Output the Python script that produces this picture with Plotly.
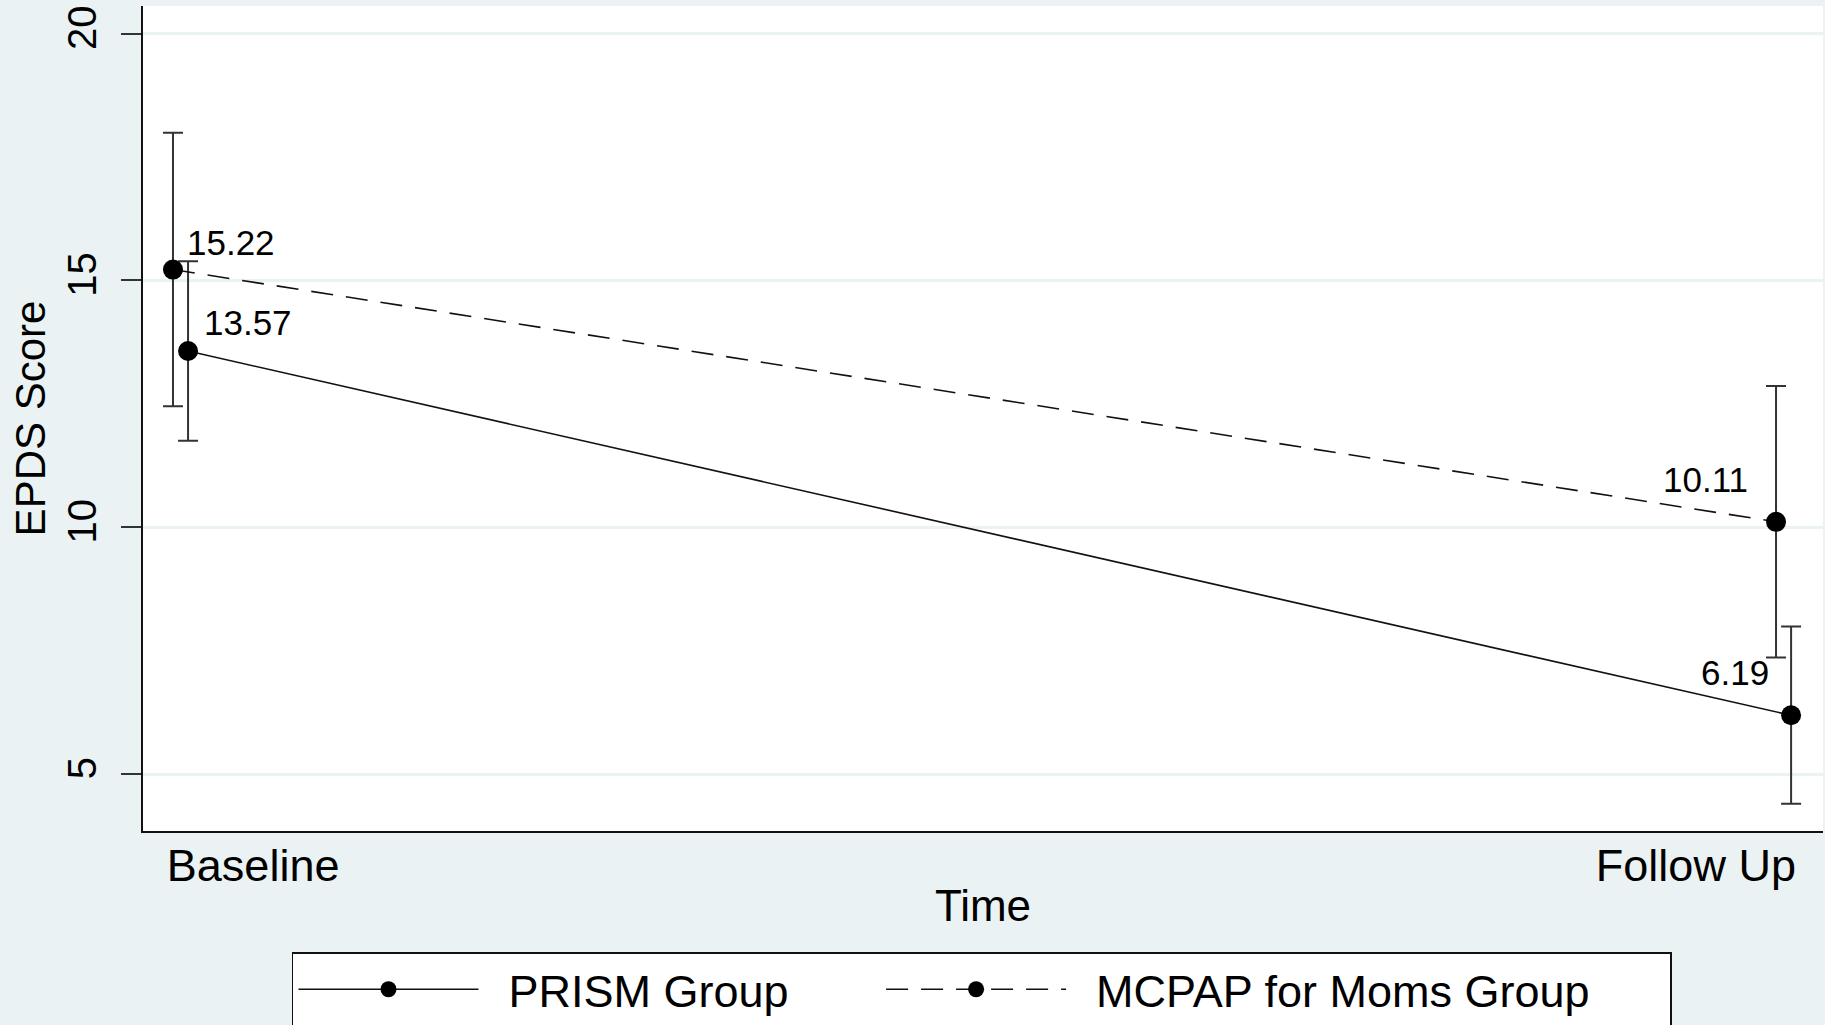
import plotly.graph_objects as go

# ---- data ----
categories = ["Baseline", "Follow Up"]
time_index = [1, 2]
prism_mean = [13.57, 6.19]
prism_lo = [11.75, 4.40]
prism_hi = [15.39, 7.99]
mcpap_mean = [15.22, 10.11]
mcpap_lo = [12.45, 7.36]
mcpap_hi = [17.99, 12.86]
y_ticks = [5, 10, 15, 20]

FONT = "Liberation Sans, Arial, sans-serif"
BG = "#EAF2F3"
INK = "#111111"
NB = "\u00a0"

offset = 0.0094  # horizontal dodge of PRISM series
prism_x = [t + offset for t in time_index]
mcpap_x = list(time_index)

fig = go.Figure()

fig.add_trace(go.Scatter(
    x=prism_x, y=prism_mean, mode="lines+markers",
    name=NB * 2 + "PRISM Group" + NB * 7,
    line=dict(color=INK, width=1.6),
    marker=dict(color="black", size=20),
    error_y=dict(type="data", symmetric=False,
                 array=[h - m for h, m in zip(prism_hi, prism_mean)],
                 arrayminus=[m - l for m, l in zip(prism_mean, prism_lo)],
                 color="#333333", thickness=2, width=10),
))
fig.add_trace(go.Scatter(
    x=mcpap_x, y=mcpap_mean, mode="lines+markers",
    name=NB * 2 + "MCPAP for Moms Group" + NB * 6,
    line=dict(color=INK, width=1.6, dash="22px,13px"),
    marker=dict(color="black", size=20),
    error_y=dict(type="data", symmetric=False,
                 array=[h - m for h, m in zip(mcpap_hi, mcpap_mean)],
                 arrayminus=[m - l for m, l in zip(mcpap_mean, mcpap_lo)],
                 color="#333333", thickness=2, width=10),
))

# value labels
label_font = dict(family=FONT, size=35, color="black")
annos = []
for xs, ys, shifts in [(mcpap_x, mcpap_mean, [(12, 27), (-26, 42)]),
                       (prism_x, prism_mean, [(14, 29), (-20, 43)])]:
    for i, (xv, yv) in enumerate(zip(xs, ys)):
        dx, dy = shifts[i]
        annos.append(dict(x=xv, y=yv, xref="x", yref="y", text=f"{yv:.2f}",
                          showarrow=False, font=label_font,
                          xanchor="left" if i == 0 else "right", yanchor="middle",
                          xshift=dx, yshift=dy))

fig.update_layout(
    width=1825, height=1025,
    margin=dict(l=143, r=2, t=6, b=194, autoexpand=False),
    paper_bgcolor=BG, plot_bgcolor="white",
    font=dict(family=FONT, color="black"),
    showlegend=True,
    legend=dict(orientation="h", x=0.4994, xanchor="center", y=-0.1467, yanchor="top",
                bgcolor="white", bordercolor=INK, borderwidth=1.5,
                font=dict(family=FONT, size=45, color="black"),
                itemwidth=180, itemclick=False),
    annotations=annos,
    xaxis=dict(range=[0.9813, 2.0293], showgrid=False, zeroline=False,
               showline=True, linecolor=INK, linewidth=2, automargin=False,
               tickmode="array", tickvals=[1.05, 1.95], ticktext=categories,
               ticks="", ticklabelstandoff=-6,
               tickfont=dict(family=FONT, size=45, color="black"),
               title=dict(text="Time", font=dict(family=FONT, size=44, color="black"),
                          standoff=0)),
    yaxis=dict(range=[3.846, 20.56], showgrid=True, gridcolor=BG, gridwidth=2.5,
               zeroline=False, showline=True, linecolor=INK, linewidth=2, automargin=False,
               tickmode="array", tickvals=y_ticks, ticks="outside", ticklen=20,
               tickwidth=2, tickcolor="#333333", tickangle=-90, ticklabelstandoff=9,
               ticklabeloverflow="allow",
               tickfont=dict(family=FONT, size=40, color="black"),
               title=dict(text="EPDS Score", font=dict(family=FONT, size=42, color="black"),
                          standoff=1)),
)

fig.write_html("out.html", config={"displayModeBar": False},
               post_script=f"document.body.style.margin='0';document.body.style.background='{BG}';")
